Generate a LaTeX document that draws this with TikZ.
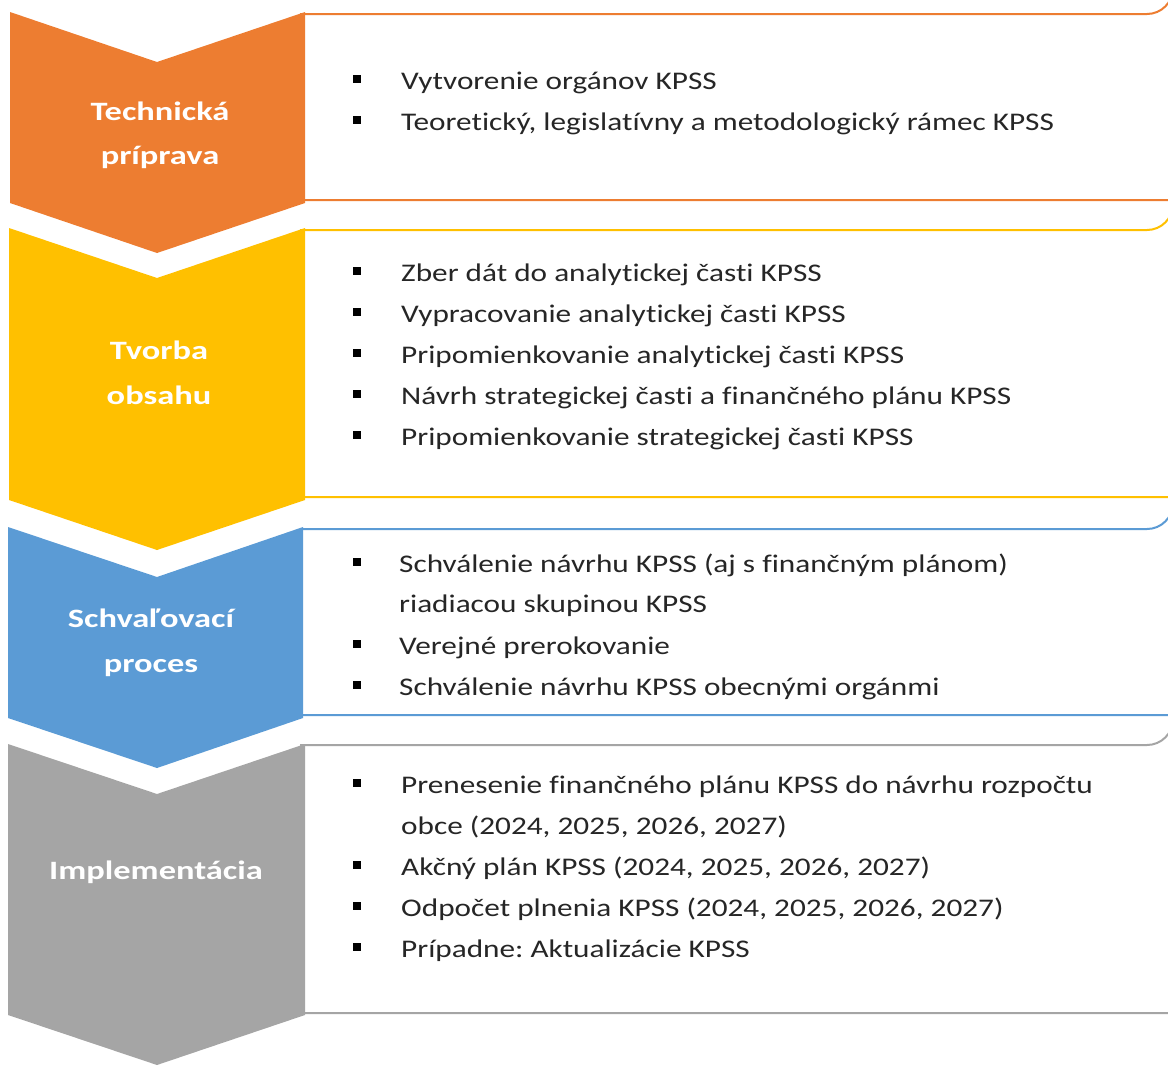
\documentclass[tikz,border=0pt]{standalone}
\usepackage{fontspec}
\setmainfont{Carlito}
\newfontfamily\itemfont[FakeStretch=1.23,RawFeature=-liga]{Carlito}
\newfontfamily\labfont[FakeStretch=1.3,RawFeature=-liga]{Carlito}
\definecolor{cOrange}{HTML}{ED7D31}
\definecolor{cYellow}{HTML}{FFC000}
\definecolor{cBlue}{HTML}{5B9BD5}
\definecolor{cGray}{HTML}{A5A5A5}
\frenchspacing
\begin{document}
\begin{tikzpicture}[x=1pt,y=-1pt,
  itemtext/.style={anchor=base west,inner sep=0pt,font=\itemfont\fontsize{25.4}{41}\selectfont,text=black!85},
  label/.style={anchor=base,inner sep=0pt,font=\labfont\fontsize{26.5}{43}\selectfont\bfseries,text=white},
  bul/.style={fill=black},
  boxline/.style={line width=2pt},
]
\useasboundingbox (0,0) rectangle (1168,1066);
\clip (0,0) rectangle (1168,1066);
% boxes
\foreach \t/\b/\c in {14/200/cOrange,230/497/cYellow,529/715/cBlue,745/1013/cGray}{
  \draw[boxline,draw=\c,fill=white] (300,\t) -- (1147,\t) arc[start angle=90,end angle=0,radius=26] -- (1173,\b) -- (300,\b);
}
% chevrons
\newcommand{\chev}[5]{\fill[#5] (#1,#3) -- (157,#3+50) -- (#2,#3) -- (#2,#4) -- (157,#4+50) -- (#1,#4) -- cycle;}
\chev{10}{305}{12}{203}{cOrange}
\chev{9}{305}{228}{500}{cYellow}
\chev{8}{303}{527}{718}{cBlue}
\chev{8}{305}{744}{1015}{cGray}
% chevron labels
\node[label] (l1a) at (160,120) {Technická};
\node[label] (l1b) at (160,164) {príprava};
\node[label] (l2a) at (159,359) {Tvorba};
\node[label] (l2b) at (159,404) {obsahu};
\node[label] (l3a) at (151,627) {Schvaľovací};
\node[label] (l3b) at (151,672) {proces};
\node[label] (l4a) at (156,879) {Implementácia};
% bullets
\foreach \y in {79,120,271,312,353,394,435,562,644,685,783,865,906,947}{
  \fill[bul] (353,\y-4) rectangle (361,\y+4);
}
% items
\node[itemtext] (i11) at (401,89) {Vytvorenie orgánov KPSS};
\node[itemtext] (i12) at (401,130) {Teoretický, legislatívny a metodologický rámec KPSS};
\node[itemtext] (i21) at (401,281) {Zber dát do analytickej časti KPSS};
\node[itemtext] (i22) at (401,322) {Vypracovanie analytickej časti KPSS};
\node[itemtext] (i23) at (401,363) {Pripomienkovanie analytickej časti KPSS};
\node[itemtext] (i24) at (401,404) {Návrh strategickej časti a finančného plánu KPSS};
\node[itemtext] (i25) at (401,445) {Pripomienkovanie strategickej časti KPSS};
\node[itemtext] (i31a) at (399,572) {Schválenie návrhu KPSS (aj s finančným plánom)};
\node[itemtext] (i31b) at (399,612) {riadiacou skupinou KPSS};
\node[itemtext] (i32) at (399,654) {Verejné prerokovanie};
\node[itemtext] (i33) at (399,695) {Schválenie návrhu KPSS obecnými orgánmi};
\node[itemtext] (i41a) at (401,793) {Prenesenie finančného plánu KPSS do návrhu rozpočtu};
\node[itemtext] (i41b) at (401,834) {obce (2024, 2025, 2026, 2027)};
\node[itemtext] (i42) at (401,875) {Akčný plán KPSS (2024, 2025, 2026, 2027)};
\node[itemtext] (i43) at (401,916) {Odpočet plnenia KPSS (2024, 2025, 2026, 2027)};
\node[itemtext] (i44) at (401,957) {Prípadne: Aktualizácie KPSS};
\end{tikzpicture}
\end{document}
